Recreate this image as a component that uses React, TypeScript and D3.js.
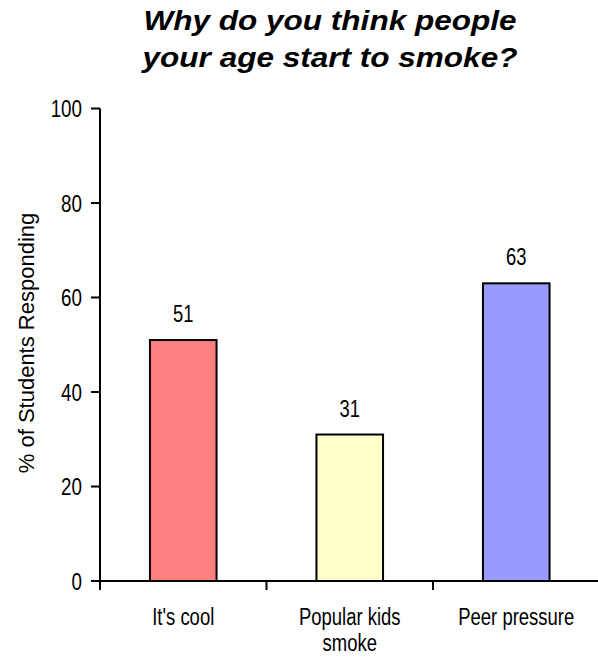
import React from "react";
import * as d3 from "d3";

const categories: string[] = ["It's cool", "Popular kids smoke", "Peer pressure"];
const categoryLines: string[][] = [["It's cool"], ["Popular kids", "smoke"], ["Peer pressure"]];
const values: number[] = [51, 31, 63];
const barColors: string[] = ["#FF8080", "#FFFFCC", "#9999FF"];
const yTicks: number[] = [0, 20, 40, 60, 80, 100];
const titleLines: string[] = ["Why do you think people", "your age start to smoke?"];
const yTitle = "% of Students Responding";

const W = 598;
const H = 657;
const left = 100;
const right = 599.5;
const top = 108.5;
const bottom = 581;
const FONT = "'Liberation Sans', Arial, sans-serif";

export default function App() {
  const x = d3.scaleBand<string>().domain(categories).range([left, right]).paddingInner(0.6).paddingOuter(0.3);
  const y = d3.scaleLinear().domain([0, 100]).range([bottom, top]);
  const step = x.step();
  const boundaries = d3.range(categories.length + 1).map((i) => left + i * step);

  return (
    <svg
      width={W}
      height={H}
      viewBox={`0 0 ${W} ${H}`}
      style={{ position: "absolute", left: 0, top: 0, background: "#fff" }}
    >
      <rect x={0} y={0} width={W} height={H} fill="#fff" />
      {/* title */}
      {titleLines.map((t, i) => (
        <text
          key={i}
          transform={`translate(330,${30 + i * 37}) scale(1.168,1)`}
          textAnchor="middle"
          fontFamily={FONT}
          fontWeight="bold"
          fontStyle="italic"
          fontSize={27}
          fill="#000"
        >
          {t}
        </text>
      ))}
      {/* bars */}
      {categories.map((c, i) => (
        <rect
          key={c}
          x={x(c)}
          y={y(values[i])}
          width={x.bandwidth()}
          height={y(0) - y(values[i])}
          fill={barColors[i]}
          stroke="#000"
          strokeWidth={2}
        />
      ))}
      {/* value labels */}
      {categories.map((c, i) => (
        <text
          key={c}
          transform={`translate(${(x(c) as number) + x.bandwidth() / 2},${y(values[i]) - 18}) scale(0.8,1)`}
          textAnchor="middle"
          fontFamily={FONT}
          fontSize={23}
          fill="#000"
        >
          {values[i]}
        </text>
      ))}
      {/* y axis */}
      <line x1={left} x2={left} y1={top} y2={bottom} stroke="#000" strokeWidth={2} />
      {yTicks.map((t) => (
        <g key={t}>
          <line x1={left - 9} x2={left} y1={y(t)} y2={y(t)} stroke="#000" strokeWidth={2} />
          <text
            transform={`translate(${left - 18},${y(t) + 8.5}) scale(0.8,1)`}
            textAnchor="end"
            fontFamily={FONT}
            fontSize={23.5}
            fill="#000"
          >
            {t}
          </text>
        </g>
      ))}
      {/* x axis */}
      <line x1={left} x2={right} y1={bottom} y2={bottom} stroke="#000" strokeWidth={2} />
      {boundaries.map((b, i) => (
        <line key={i} x1={b} x2={b} y1={bottom} y2={bottom + 9} stroke="#000" strokeWidth={2} />
      ))}
      {categories.map((c, i) => (
        <g key={c}>
          {categoryLines[i].map((ln, j) => (
            <text
              key={j}
              transform={`translate(${(x(c) as number) + x.bandwidth() / 2},${625 + j * 26}) scale(0.77,1)`}
              textAnchor="middle"
              fontFamily={FONT}
              fontSize={24}
              fill="#000"
            >
              {ln}
            </text>
          ))}
        </g>
      ))}
      {/* y title */}
      <text
        transform={`translate(34,343) rotate(-90)`}
        textAnchor="middle"
        fontFamily={FONT}
        fontSize={22}
        fill="#000"
      >
        {yTitle}
      </text>
    </svg>
  );
}
